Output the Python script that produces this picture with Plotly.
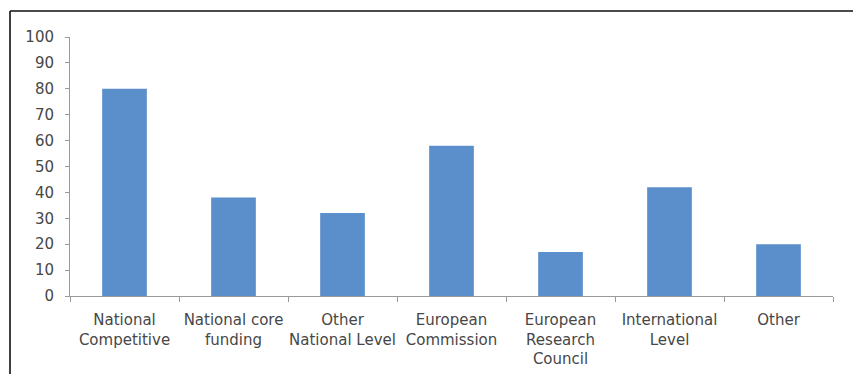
import plotly.graph_objects as go

categories = ["National<br>Competitive", "National core<br>funding", "Other<br>National Level",
              "European<br>Commission", "European<br>Research<br>Council", "International<br>Level", "Other"]
values = [80, 38, 32, 58, 17, 42, 20]
y_ticks = list(range(0, 101, 10))

fig = go.Figure(go.Bar(x=categories, y=values, marker=dict(color="#5B8FCB", line=dict(width=0)), width=0.41))

L, R, T, B = 70, 20, 37, 78
W, H = 853, 374
pw, ph = W - L - R, H - T - B

fig.update_layout(
    width=W, height=H,
    margin=dict(l=L, r=R, t=T, b=B, pad=0),
    paper_bgcolor="white", plot_bgcolor="white",
    font=dict(family="DejaVu Sans", size=15, color="#474747"),
    showlegend=False,
)
fig.update_xaxes(
    showline=True, linecolor="#9a9a9a", linewidth=1,
    ticks="outside", tickson="boundaries", ticklen=5, tickcolor="#9a9a9a",
    showgrid=False, zeroline=False, tickangle=0, ticklabelstandoff=10, automargin=False,
)
fig.update_yaxes(
    range=[0, 100], tickvals=y_ticks,
    showline=True, linecolor="#9a9a9a", linewidth=1,
    ticks="outside", ticklen=4, tickcolor="#9a9a9a",
    showgrid=False, zeroline=False, ticklabelstandoff=8, automargin=False,
)

# outer frame (top and left visible)
x_left = (10 - L) / pw
y_top = 1 + (T - 11) / ph
fig.add_shape(type="line", xref="paper", yref="paper", x0=x_left, x1=(W + 10 - L) / pw, y0=y_top, y1=y_top,
              line=dict(color="#111111", width=1.6))
fig.add_shape(type="line", xref="paper", yref="paper", x0=x_left, x1=x_left, y0=y_top, y1=-(B + 10) / ph,
              line=dict(color="#111111", width=1.6))

fig.write_html("out.html", config={"displayModeBar": False},
               post_script="document.body.style.margin='0';document.body.style.overflow='hidden';")
